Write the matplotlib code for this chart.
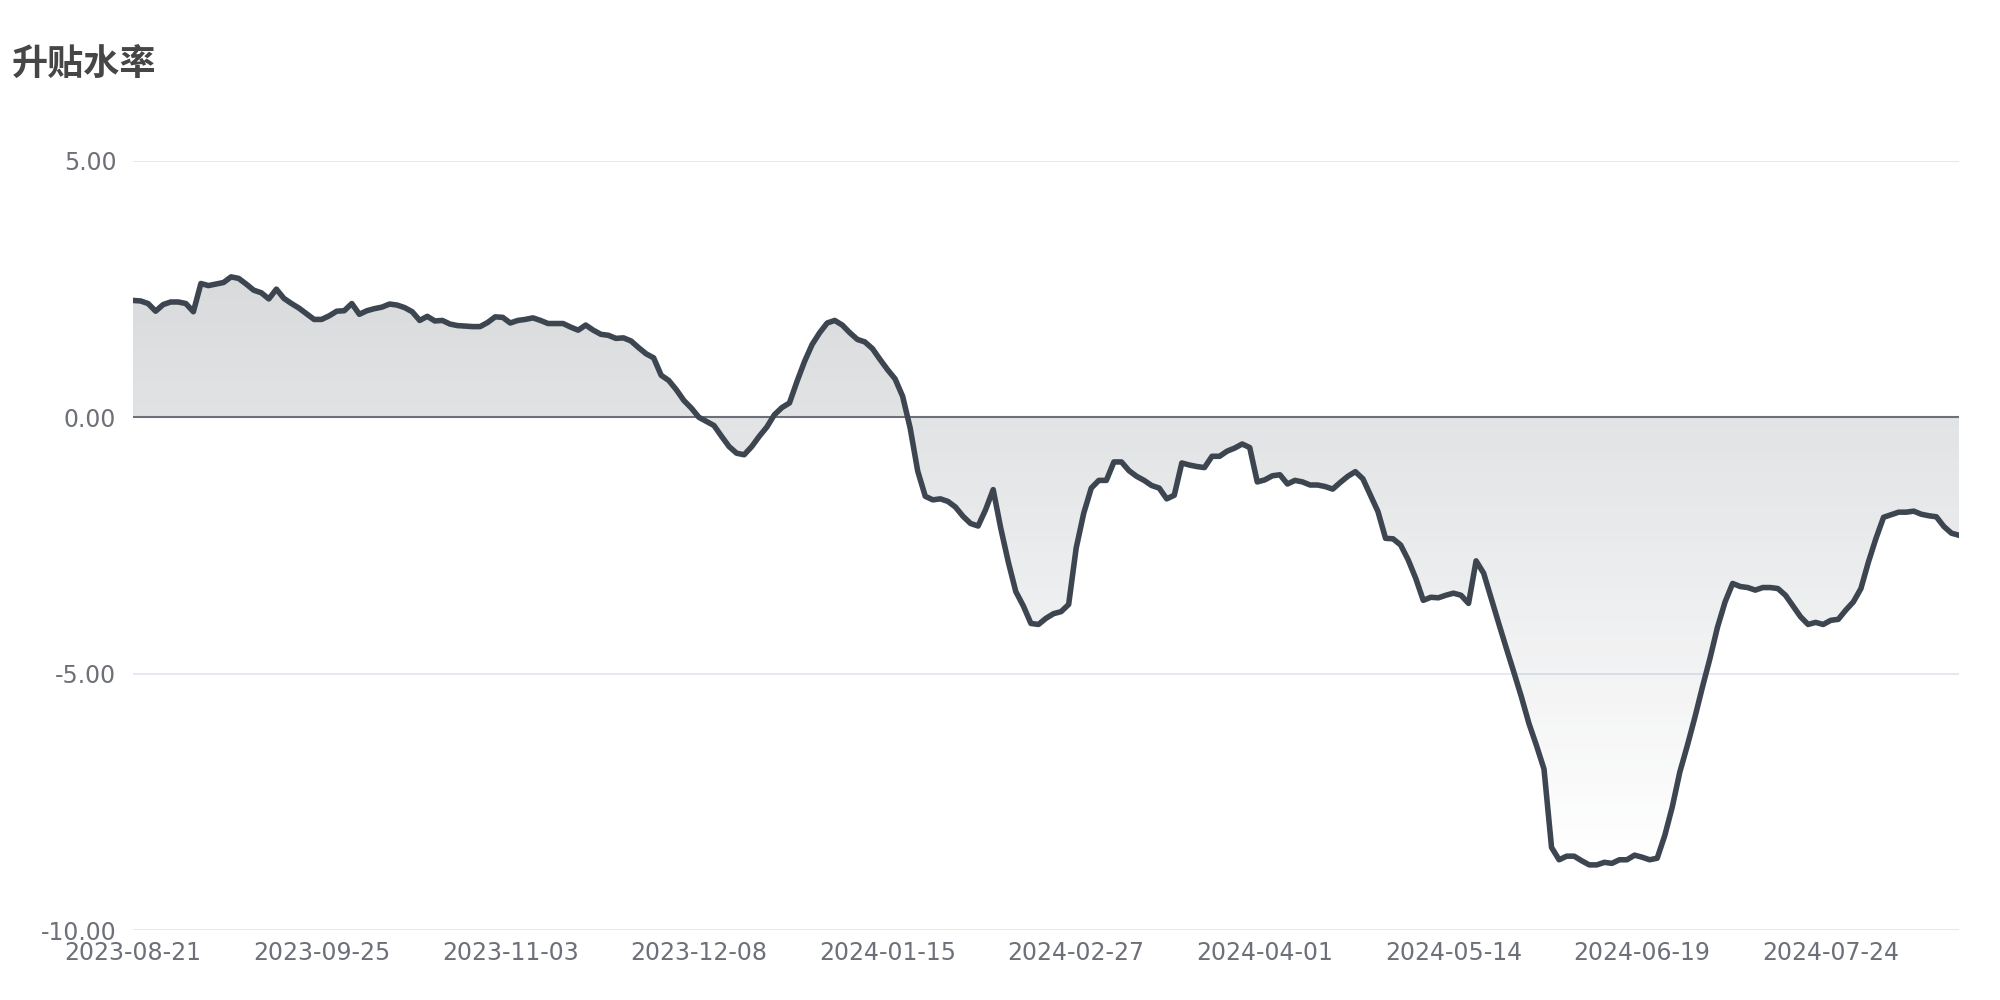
import numpy as np
import matplotlib
matplotlib.use('Agg')
import matplotlib.pyplot as plt
from matplotlib.colors import LinearSegmentedColormap

plt.rcParams['axes.unicode_minus'] = False

# x tick labels, one every 25 trading days
tick_labels = ['2023-08-21', '2023-09-25', '2023-11-03', '2023-12-08', '2024-01-15',
               '2024-02-27', '2024-04-01', '2024-05-14', '2024-06-19', '2024-07-24']
tick_step = 25

# basis rate (升贴水率), one value per trading day
values = [
    2.28, 2.27, 2.22, 2.07, 2.20, 2.25, 2.25, 2.22, 2.06, 2.61,
    2.57, 2.60, 2.63, 2.74, 2.71, 2.60, 2.48, 2.43, 2.31, 2.50,
    2.32, 2.22, 2.13, 2.02, 1.91, 1.91, 1.98, 2.07, 2.08, 2.22,
    2.01, 2.08, 2.12, 2.15, 2.21, 2.19, 2.14, 2.06, 1.89, 1.97,
    1.88, 1.89, 1.82, 1.79, 1.78, 1.77, 1.77, 1.85, 1.96, 1.95,
    1.84, 1.89, 1.91, 1.94, 1.89, 1.83, 1.83, 1.83, 1.76, 1.70,
    1.80, 1.70, 1.62, 1.60, 1.54, 1.55, 1.49, 1.36, 1.24, 1.16,
    0.82, 0.72, 0.54, 0.33, 0.18, 0.00, -0.08, -0.16, -0.37, -0.57,
    -0.70, -0.73, -0.57, -0.37, -0.19, 0.05, 0.19, 0.28, 0.70, 1.09,
    1.42, 1.65, 1.84, 1.89, 1.80, 1.65, 1.52, 1.47, 1.34, 1.13,
    0.93, 0.75, 0.41, -0.21, -1.05, -1.54, -1.61, -1.59, -1.64, -1.75,
    -1.93, -2.07, -2.12, -1.80, -1.41, -2.16, -2.82, -3.40, -3.68, -4.02,
    -4.04, -3.92, -3.83, -3.79, -3.65, -2.55, -1.87, -1.38, -1.23, -1.23,
    -0.87, -0.87, -1.04, -1.15, -1.23, -1.33, -1.38, -1.59, -1.52, -0.89,
    -0.93, -0.96, -0.98, -0.76, -0.76, -0.66, -0.60, -0.52, -0.59, -1.26,
    -1.22, -1.14, -1.12, -1.30, -1.23, -1.26, -1.32, -1.32, -1.35, -1.40,
    -1.27, -1.15, -1.06, -1.20, -1.52, -1.84, -2.36, -2.37, -2.49, -2.78,
    -3.14, -3.57, -3.51, -3.52, -3.47, -3.43, -3.47, -3.63, -2.80, -3.04,
    -3.53, -4.02, -4.50, -4.97, -5.45, -5.97, -6.40, -6.86, -8.39, -8.63,
    -8.56, -8.56, -8.65, -8.73, -8.73, -8.68, -8.70, -8.63, -8.63, -8.54,
    -8.58, -8.63, -8.60, -8.16, -7.60, -6.92, -6.40, -5.85, -5.26, -4.70,
    -4.09, -3.60, -3.24, -3.30, -3.32, -3.37, -3.32, -3.32, -3.34, -3.47,
    -3.68, -3.89, -4.04, -4.00, -4.04, -3.96, -3.94, -3.76, -3.60, -3.34,
    -2.82, -2.36, -1.95, -1.90, -1.85, -1.85, -1.83, -1.89, -1.92, -1.94,
    -2.13, -2.26, -2.30,
]

y_ticks = [5, 0, -5, -10]

line_color = '#3d4650'
label_color = '#6e7079'

fig = plt.figure(figsize=(20, 10), dpi=100)
ax = fig.add_axes([0.0665, 0.07, 0.913, 0.769])

x = np.arange(len(values))
y = np.array(values)

# gradient area between the line and zero
area = ax.fill_between(x, y, 0, color='none', lw=0)
cmap = LinearSegmentedColormap.from_list(
    'fade', [(0.235, 0.275, 0.314, 0.0), (0.235, 0.275, 0.314, 0.2)])
grad = np.linspace(0, 1, 256).reshape(-1, 1)
img = ax.imshow(grad, aspect='auto', cmap=cmap, origin='lower',
                extent=[x[0], x[-1], y.min(), y.max()], zorder=1)
img.set_clip_path(area.get_paths()[0], transform=ax.transData)

ax.plot(x, y, color=line_color, lw=4, zorder=3, solid_joinstyle='round')

ax.set_xlim(x[0], x[-1])
ax.set_ylim(-10, 5)

for v in y_ticks:
    if v == 0:
        ax.axhline(v, color=label_color, lw=1.5, zorder=2)
    else:
        ax.axhline(v, color='#e0e6f1', lw=1.3, zorder=0)

ax.set_yticks(y_ticks)
ax.set_yticklabels(['%.2f' % v for v in y_ticks])
ax.set_xticks(x[::tick_step])
ax.set_xticklabels(tick_labels)
ax.tick_params(axis='both', length=0, labelsize=17, labelcolor=label_color)
ax.tick_params(axis='y', pad=12)
ax.tick_params(axis='x', pad=8)

for s in ax.spines.values():
    s.set_visible(False)

fig.text(0.006, 0.936, '升贴水率', fontsize=26, fontweight='bold', color='#464646',
         family=['Noto Sans CJK SC', 'DejaVu Sans'], va='center', ha='left')

fig.savefig('out.png', dpi=100, facecolor='white')
